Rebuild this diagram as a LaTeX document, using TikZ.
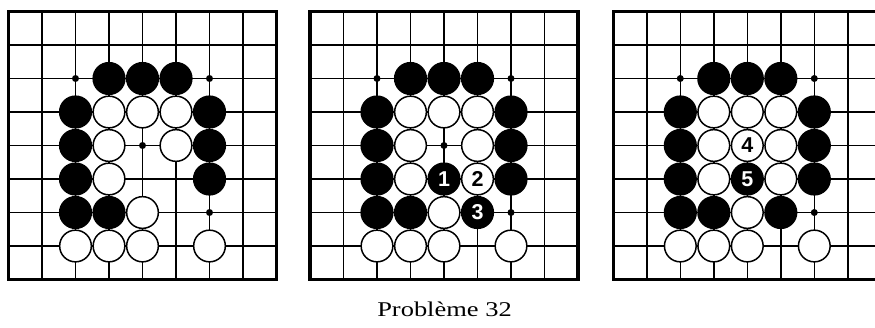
\documentclass[tikz,border=0pt]{standalone}
\usepackage{graphicx}
\usepackage{fontspec}
\setmainfont{Liberation Serif}
\newfontfamily\stonefont{Liberation Sans}

\tikzset{
  gridline/.style={line width=1.4pt},
  boardedge/.style={line width=3.3pt},
  stonenum/.style={font=\stonefont\bfseries\fontsize{21.5pt}{21.5pt}\selectfont},
  blackstone/.style={circle,fill=black,minimum size=33.2pt,inner sep=0pt,
    text=white,stonenum},
  whitestone/.style={circle,draw=black,line width=1.5pt,fill=white,
    minimum size=31.7pt,inner sep=0pt,stonenum},
  starpt/.style={circle,fill=black,minimum size=7pt,inner sep=0pt},
}

\begin{document}
\begin{tikzpicture}[x=1pt,y=-1pt]
\useasboundingbox (0,0) rectangle (875,327);
\clip (0,0) rectangle (875,327);
% the three boards share the grid and the common position
\foreach \bx/\bn in {8.5/a,310/b,613.3/c} {
\begin{scope}[shift={(\bx,11.5)},x=33.5pt,y=-33.5pt]
  \foreach \i in {0,...,8} {
    \draw[gridline] (\i,0) -- (\i,8);
    \draw[gridline] (0,\i) -- (8,\i);
  }
  \draw[boardedge] (0,0) rectangle (8,8);
  \foreach \c/\r in {2/2,6/2,6/6}
    \node[starpt] (\bn-p\c\r) at (\c,\r) {};
  \foreach \c/\r in {3/2,4/2,5/2,2/3,6/3,2/4,6/4,2/5,6/5,2/6,3/6}
    \node[blackstone] (\bn-b\c\r) at (\c,\r) {};
  \foreach \c/\r in {3/3,4/3,5/3,3/4,5/4,3/5,4/6,2/7,3/7,4/7,6/7}
    \node[whitestone] (\bn-w\c\r) at (\c,\r) {};
\end{scope}
}
% first board
\begin{scope}[shift={(8.5,11.5)},x=33.5pt,y=-33.5pt]
  \node[starpt] (a-p44) at (4,4) {};
\end{scope}
% second board: moves 1 to 3
\begin{scope}[shift={(310,11.5)},x=33.5pt,y=-33.5pt]
  \node[starpt] (b-p44) at (4,4) {};
  \node[blackstone] (b-one) at (4,5) {1};
  \node[whitestone] (b-two) at (5,5) {2};
  \node[blackstone] (b-three) at (5,6) {3};
\end{scope}
% third board: moves 4 and 5
\begin{scope}[shift={(613.3,11.5)},x=33.5pt,y=-33.5pt]
  \node[whitestone] (c-four) at (4,4) {4};
  \node[blackstone] (c-five) at (4,5) {5};
  \node[whitestone] (c-w55) at (5,5) {};
  \node[blackstone] (c-b56) at (5,6) {};
\end{scope}
\node[anchor=base] (caption) at (444.5,316.5)
  {\scalebox{1.26}[1]{\fontsize{21pt}{25pt}\selectfont Problème 32}};
\end{tikzpicture}
\end{document}
